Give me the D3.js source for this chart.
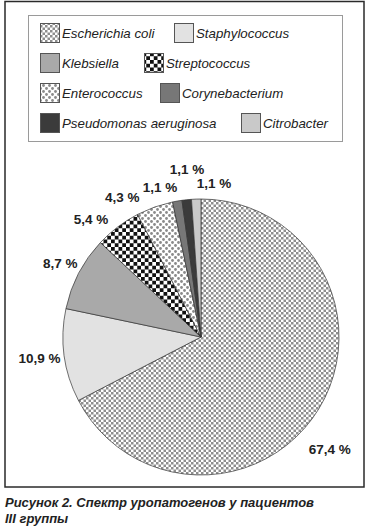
<!DOCTYPE html>
<html>
<head>
<meta charset="utf-8">
<script src="https://cdn.jsdelivr.net/npm/d3@7"></script>
<style>
  html, body { margin: 0; padding: 0; background: #fff; }
  svg { display: block; }
</style>
</head>
<body>
<svg id="chart" width="369" height="531"></svg>
<script>
// ---- data ----
const categories = ["Escherichia coli", "Staphylococcus", "Klebsiella", "Streptococcus",
                    "Enterococcus", "Corynebacterium", "Pseudomonas aeruginosa", "Citrobacter"];
const values = [67.4, 10.9, 8.7, 5.4, 4.3, 1.1, 1.1, 1.1];
const valueLabels = ["67,4 %", "10,9 %", "8,7 %", "5,4 %", "4,3 %", "1,1 %", "1,1 %", "1,1 %"];
const captionLines = ["Рисунок 2. Спектр уропатогенов у пациентов", "III группы"];

// ---- styles / layout ----
const fills = ["url(#pEcoli)", "#e2e2e2", "#a9a9a9", "url(#pStrep)",
               "url(#pEntero)", "#777777", "#3b3b3b", "#c9c9c9"];
const legendX = [40, 174, 40, 144, 40, 160, 40, 241];
const legendRow = [0, 0, 1, 1, 2, 2, 3, 3];
const labelNudge = [[-8, 29], [-3, 0], [1, 0], [-13.5, 9.6], [-25, 11], [-13.5, 7.6], [2.6, -9], [18.6, 5.9]];

const svg = d3.select("#chart");
const defs = svg.append("defs");

// E. coli fine checkerboard
const p1 = defs.append("pattern").attr("id", "pEcoli").attr("patternUnits", "userSpaceOnUse")
  .attr("width", 5).attr("height", 5);
p1.append("rect").attr("width", 5).attr("height", 5).attr("fill", "#fff");
p1.append("rect").attr("width", 2.5).attr("height", 2.5).attr("fill", "#8e8e8e");
p1.append("rect").attr("x", 2.5).attr("y", 2.5).attr("width", 2.5).attr("height", 2.5).attr("fill", "#8e8e8e");

// Streptococcus black checkerboard
const p2 = defs.append("pattern").attr("id", "pStrep").attr("patternUnits", "userSpaceOnUse")
  .attr("width", 7.5).attr("height", 7.5);
p2.append("rect").attr("width", 7.5).attr("height", 7.5).attr("fill", "#fff");
p2.append("rect").attr("width", 3.75).attr("height", 3.75).attr("fill", "#111");
p2.append("rect").attr("x", 3.75).attr("y", 3.75).attr("width", 3.75).attr("height", 3.75).attr("fill", "#111");

// Enterococcus dotted
const p3 = defs.append("pattern").attr("id", "pEntero").attr("patternUnits", "userSpaceOnUse")
  .attr("width", 6).attr("height", 6);
p3.append("rect").attr("width", 6).attr("height", 6).attr("fill", "#fff");
p3.append("circle").attr("cx", 1.5).attr("cy", 1.5).attr("r", 1.4).attr("fill", "#8a8a8a");
p3.append("circle").attr("cx", 4.5).attr("cy", 4.5).attr("r", 1.4).attr("fill", "#8a8a8a");

// outer frame
svg.append("rect").attr("x", 5).attr("y", 1.5).attr("width", 359).attr("height", 485.5)
  .attr("fill", "none").attr("stroke", "#2a2a2a").attr("stroke-width", 1.5);

// legend box
svg.append("rect").attr("x", 28.5).attr("y", 15.5).attr("width", 314).attr("height", 126)
  .attr("fill", "#fff").attr("stroke", "#9a9a9a").attr("stroke-width", 1);

const leg = svg.append("g");
categories.forEach((c, i) => {
  const y = 23.5 + legendRow[i] * 30;
  leg.append("rect").attr("x", legendX[i] + 0.5).attr("y", y).attr("width", 19).attr("height", 19)
    .attr("fill", fills[i]).attr("stroke", "#555").attr("stroke-width", 1);
  leg.append("text").attr("x", legendX[i] + 22).attr("y", y + 14.5)
    .attr("font-family", "Liberation Sans, Arial, sans-serif").attr("font-style", "italic")
    .attr("font-size", 13.3).attr("fill", "#222").text(c);
});

// pie
const cx = 201, cy = 337, R = 138, labelR = 160;
const pie = d3.pie().sort(null).value(d => d).startAngle(0).endAngle(2 * Math.PI);
const arcs = pie(values);
const arc = d3.arc().innerRadius(0).outerRadius(R);
const labelArc = d3.arc().innerRadius(labelR).outerRadius(labelR);

const g = svg.append("g").attr("transform", `translate(${cx},${cy})`);
g.selectAll("path.slice").data(arcs).join("path").attr("class", "slice")
  .attr("d", arc).attr("fill", (d, i) => fills[i])
  .attr("stroke", "#333").attr("stroke-width", 0.7).attr("stroke-linejoin", "round");

g.selectAll("text.lbl").data(arcs).join("text").attr("class", "lbl")
  .attr("x", (d, i) => labelArc.centroid(d)[0] + labelNudge[i][0])
  .attr("y", (d, i) => labelArc.centroid(d)[1] + labelNudge[i][1])
  .attr("dy", "0.36em").attr("text-anchor", "middle")
  .attr("font-family", "Liberation Sans, Arial, sans-serif").attr("font-weight", "bold")
  .attr("font-size", 13.5).attr("fill", "#222")
  .text((d, i) => valueLabels[i]);

// caption
captionLines.forEach((t, i) => {
  svg.append("text").attr("x", 5).attr("y", 507 + i * 15.5)
    .attr("font-family", "Liberation Sans, Arial, sans-serif").attr("font-weight", "bold")
    .attr("font-style", "italic").attr("font-size", 13).attr("fill", "#222").text(t);
});
</script>
</body>
</html>
